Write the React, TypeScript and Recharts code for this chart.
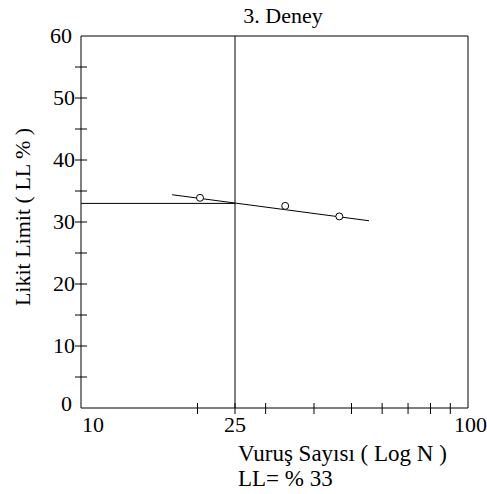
import { ComposedChart, XAxis, YAxis, Scatter, ReferenceLine } from 'recharts'

const xTicks = [10, 20, 25, 30, 40, 50, 60, 70, 80, 90, 100]
const xLabels = [10, 25, 100]
const yTicks = [0, 5, 10, 15, 20, 25, 30, 35, 40, 45, 50, 55, 60]
const yLabels = [0, 10, 20, 30, 40, 50, 60]

// ölçülen noktalar (vuruş sayısı, LL %)
const blows = [20.3, 33.7, 46.5]
const llValues = [33.9, 32.6, 30.9]
const points = blows.map((n, i) => ({ n, ll: llValues[i] }))

// akış eğrisi uçları
const fitN = [17.2, 55.5]
const fitLL = [34.4, 30.2]
const fitLine = fitN.map((n, i) => ({ n, ll: fitLL[i] }))

const N25 = 25
const LL = 33

const serif = { fontFamily: "'Liberation Serif'" }

const XTick = (props: any) => {
  const { x, y, payload } = props
  const v = payload.value
  const show = xLabels.includes(v)
  return (
    <g>
      {v !== 10 && v !== 100 && <line x1={x} x2={x} y1={y - 5} y2={y + 6} stroke="#000" />}
      {show && (
        <text
          x={v === 10 ? x + 1 : v === 100 ? x - 14 : x}
          y={y + 24}
          textAnchor={v === 25 ? 'middle' : 'start'}
          fontSize={22}
          style={serif}
          fill="#000"
        >
          {v}
        </text>
      )}
    </g>
  )
}

const YTick = (props: any) => {
  const { x, y, payload } = props
  const v = payload.value
  const show = yLabels.includes(v)
  return (
    <g>
      {v !== 0 && v !== 60 && <line x1={x - 6} x2={x + 6} y1={y} y2={y} stroke="#000" />}
      {show && (
        <text
          x={v === 0 || v === 60 ? x - 9 : x - 6}
          y={v === 0 ? y - 4 : y}
          dy={7}
          textAnchor="end"
          fontSize={22}
          style={serif}
          fill="#000"
        >
          {v}
        </text>
      )}
    </g>
  )
}

const Ring = (props: any) => {
  const { cx, cy } = props
  return <circle cx={cx} cy={cy} r={3.5} fill="#fff" stroke="#000" strokeWidth={1} />
}

export default function App() {
  return (
    <div style={{ position: 'absolute', left: 0, top: 0, width: 487, height: 494, background: '#fff' }}>
      <ComposedChart width={487} height={494} margin={{ top: 36, right: 19, left: 0, bottom: 0 }}>
        <XAxis
          dataKey="n"
          type="number"
          scale="log"
          domain={[10, 100]}
          ticks={xTicks}
          interval={0}
          allowDataOverflow
          height={86}
          tickSize={0}
          tickMargin={0}
          tick={<XTick />}
          axisLine={{ stroke: '#000' }}
        />
        <YAxis
          dataKey="ll"
          type="number"
          domain={[0, 60]}
          ticks={yTicks}
          interval={0}
          width={81}
          tickSize={0}
          tickMargin={0}
          tick={<YTick />}
          axisLine={{ stroke: '#000' }}
        />
        <ReferenceLine y={60} stroke="#000" />
        <ReferenceLine x={100} stroke="#000" />
        <ReferenceLine x={N25} stroke="#000" />
        <ReferenceLine segment={[{ x: 10, y: LL }, { x: N25, y: LL }]} stroke="#000" />
        <Scatter
          data={fitLine}
          line={{ stroke: '#000', strokeWidth: 1 }}
          shape={() => <g />}
          isAnimationActive={false}
        />
        <Scatter data={points} shape={<Ring />} isAnimationActive={false} />
      </ComposedChart>
      <svg width={487} height={494} style={{ position: 'absolute', left: 0, top: 0, pointerEvents: 'none' }}>
        <text x={283} y={23} textAnchor="middle" fontSize={22} style={serif} fill="#000">
          3. Deney
        </text>
        <text
          x={0}
          y={0}
          transform="translate(30,217) rotate(-90)"
          textAnchor="middle"
          fontSize={22}
          style={serif}
          fill="#000"
        >
          Likit Limit ( LL % )
        </text>
        <text x={238} y={461} fontSize={23} style={serif} fill="#000">
          Vuruş Sayısı ( Log N )
        </text>
        <text x={238} y={486} fontSize={23} style={serif} fill="#000">
          LL= % 33
        </text>
      </svg>
    </div>
  )
}
